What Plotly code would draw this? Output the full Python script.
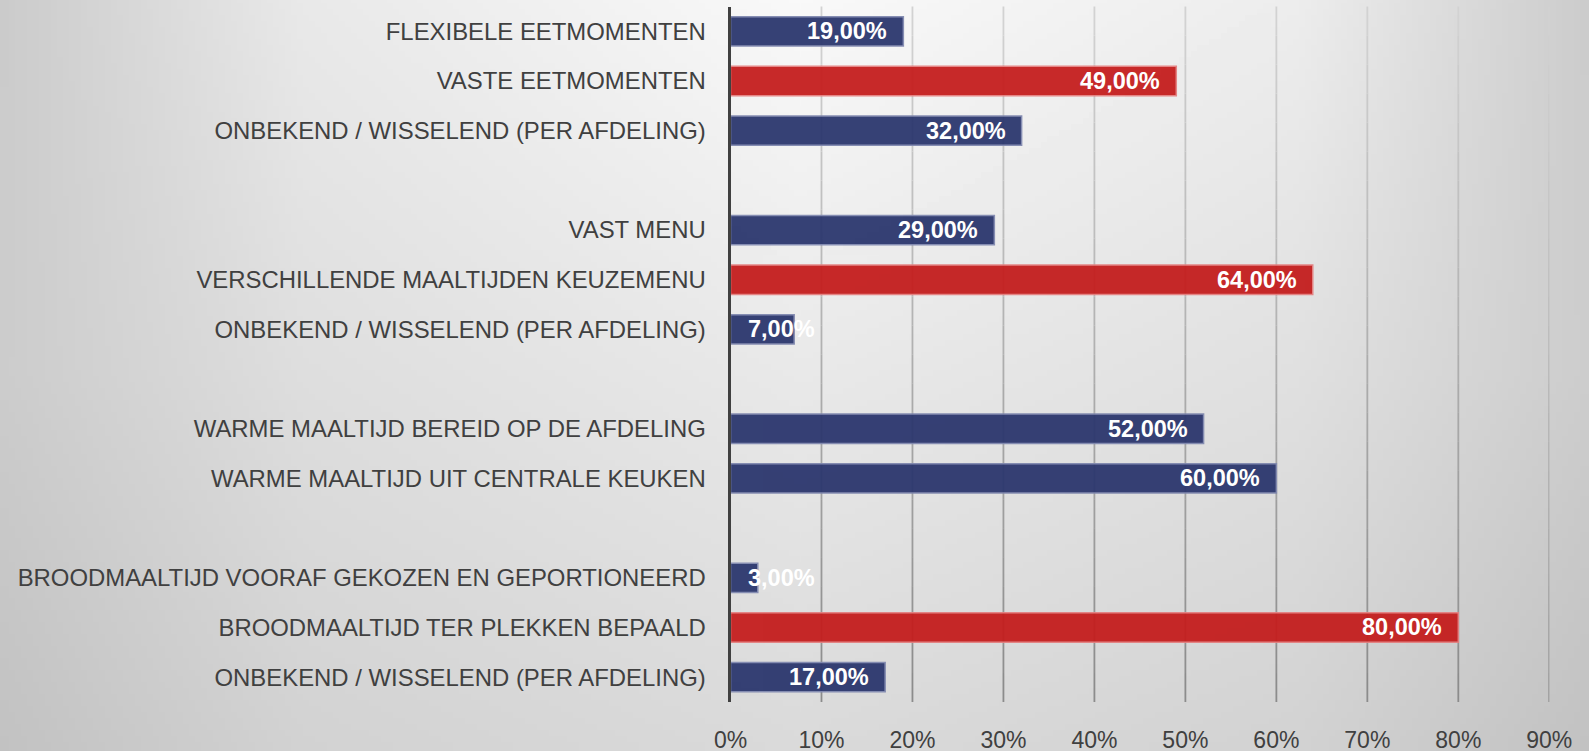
import base64
import struct
import zlib

import plotly.graph_objects as go

# ---------------- data ----------------
labels = [
    "FLEXIBELE EETMOMENTEN",
    "VASTE EETMOMENTEN",
    "ONBEKEND / WISSELEND (PER AFDELING)",
    "VAST MENU",
    "VERSCHILLENDE MAALTIJDEN KEUZEMENU",
    "ONBEKEND / WISSELEND (PER AFDELING)",
    "WARME MAALTIJD BEREID OP DE AFDELING",
    "WARME MAALTIJD UIT CENTRALE KEUKEN",
    "BROODMAALTIJD VOORAF GEKOZEN EN GEPORTIONEERD",
    "BROODMAALTIJD TER PLEKKEN BEPAALD",
    "ONBEKEND / WISSELEND (PER AFDELING)",
]
values = [19, 49, 32, 29, 64, 7, 52, 60, 3, 80, 17]
groups = [0, 0, 0, 1, 1, 1, 2, 2, 3, 3, 3]
highlight = [False, True, False, False, True, False, False, False, False, True, False]
x_ticks = [0, 10, 20, 30, 40, 50, 60, 70, 80, 90]
x_tick_labels = ["0%", "10%", "20%", "30%", "40%", "50%", "60%", "70%", "80%", "90%"]

# ---------------- styling ----------------
W, H = 1589, 751
FONT = "Liberation Sans, Arial, sans-serif"
NAVY, NAVY_LINE = "rgb(44,55,110)", "rgb(128,136,175)"
RED, RED_LINE = "rgb(196,30,30)", "rgb(228,128,128)"

# row positions: one empty row between groups
positions = [i + g for i, g in enumerate(groups)]
n_rows = positions[-1] + 1

# plot area in pixels
px_left, px_right = 730.5, 1549.3
px_top, px_bottom = 6.5, 702.0
xdom = [px_left / W, px_right / W]
ydom = [1 - px_bottom / H, 1 - px_top / H]


# ---------------- background gradient image ----------------
def make_bg_png():
    gx = [0, 300, 800, 1300, 1589]
    gy = [0, 375, 751]
    gz = [
        [203, 233, 249, 237, 204],
        [204, 222, 233, 224, 205],
        [194, 210, 218, 210, 194],
    ]

    def interp1(xs, x):
        for i in range(len(xs) - 1):
            if xs[i] <= x <= xs[i + 1]:
                return i, (x - xs[i]) / (xs[i + 1] - xs[i])
        return len(xs) - 2, 1.0

    iw, ih = 265, 125
    raw = bytearray()
    for r in range(ih):
        y = (r + 0.5) / ih * H
        j, ty = interp1(gy, y)
        raw.append(0)
        for c in range(iw):
            x = (c + 0.5) / iw * W
            i, tx = interp1(gx, x)
            a = gz[j][i] * (1 - tx) + gz[j][i + 1] * tx
            b = gz[j + 1][i] * (1 - tx) + gz[j + 1][i + 1] * tx
            raw.append(int(round(a * (1 - ty) + b * ty)))

    def chunk(tag, data):
        c = struct.pack(">I", len(data)) + tag + data
        return c + struct.pack(">I", zlib.crc32(tag + data) & 0xFFFFFFFF)

    png = b"\x89PNG\r\n\x1a\n"
    png += chunk(b"IHDR", struct.pack(">IIBBBBB", iw, ih, 8, 0, 0, 0, 0))
    png += chunk(b"IDAT", zlib.compress(bytes(raw), 9))
    png += chunk(b"IEND", b"")
    return "data:image/png;base64," + base64.b64encode(png).decode()


fig = go.Figure()

colors = [RED if h else NAVY for h in highlight]
line_colors = [RED_LINE if h else NAVY_LINE for h in highlight]
fig.add_trace(go.Bar(
    x=values, y=positions, orientation="h",
    marker=dict(color=colors, line=dict(color=line_colors, width=1.5)),
    opacity=0.95,
    hoverinfo="skip",
))

# gradient gridlines
shapes = []
N = 24
for v in x_ticks[1:]:
    for k in range(N):
        f = (k + 0.5) / N
        c = int(round(138 + (212 - 138) * f))
        shapes.append(dict(
            type="line", xref="x", yref="y domain",
            x0=v, x1=v, y0=k / N, y1=(k + 1) / N,
            line=dict(color=f"rgb({c},{c},{c})", width=1.8),
            layer="below",
        ))

# data labels
annotations = []
for v, p in zip(values, positions):
    txt = f"{v:.2f}".replace(".", ",") + "%"
    if v >= 12:
        annotations.append(dict(
            x=v, y=p, xref="x", yref="y", text=f"<b>{txt}</b>",
            xanchor="right", yanchor="middle", xshift=-14, showarrow=False,
            font=dict(family=FONT, size=23.5, color="white"),
        ))
    else:
        annotations.append(dict(
            x=0, y=p, xref="x", yref="y", text=f"<b>{txt}</b>",
            xanchor="left", yanchor="middle", xshift=15, showarrow=False,
            font=dict(family=FONT, size=23.5, color="white"),
        ))

fig.update_layout(
    width=W, height=H,
    margin=dict(l=0, r=0, t=0, b=0),
    paper_bgcolor="rgb(225,225,225)",
    plot_bgcolor="rgba(0,0,0,0)",
    showlegend=False,
    bargap=0.41,
    font=dict(family=FONT, color="#404040"),
    images=[dict(
        source=make_bg_png(), xref="paper", yref="paper",
        x=0, y=1, sizex=1, sizey=1, sizing="stretch",
        xanchor="left", yanchor="top", layer="below",
    )],
    xaxis=dict(
        domain=xdom, anchor="y", range=[0, 90],
        tickmode="array", tickvals=x_ticks, ticktext=x_tick_labels,
        showgrid=False, zeroline=False, showline=False,
        ticks="outside", ticklen=17, tickcolor="rgba(0,0,0,0)",
        tickfont=dict(family=FONT, size=23, color="#404040"),
        automargin=False, fixedrange=True,
    ),
    yaxis=dict(
        domain=ydom, anchor="x", range=[n_rows - 0.5, -0.5],
        tickvals=positions, ticktext=labels,
        showgrid=False, zeroline=False,
        showline=True, linecolor="#404040", linewidth=3,
        ticks="outside", ticklen=17, tickcolor="rgba(0,0,0,0)",
        tickfont=dict(family=FONT, size=23.9, color="#404040"),
        automargin=False, fixedrange=True,
    ),
    shapes=shapes,
    annotations=annotations,
)

fig.write_html(
    "out.html",
    config={"displayModeBar": False},
    post_script="document.body.style.margin='0';document.body.style.overflow='hidden';",
)
